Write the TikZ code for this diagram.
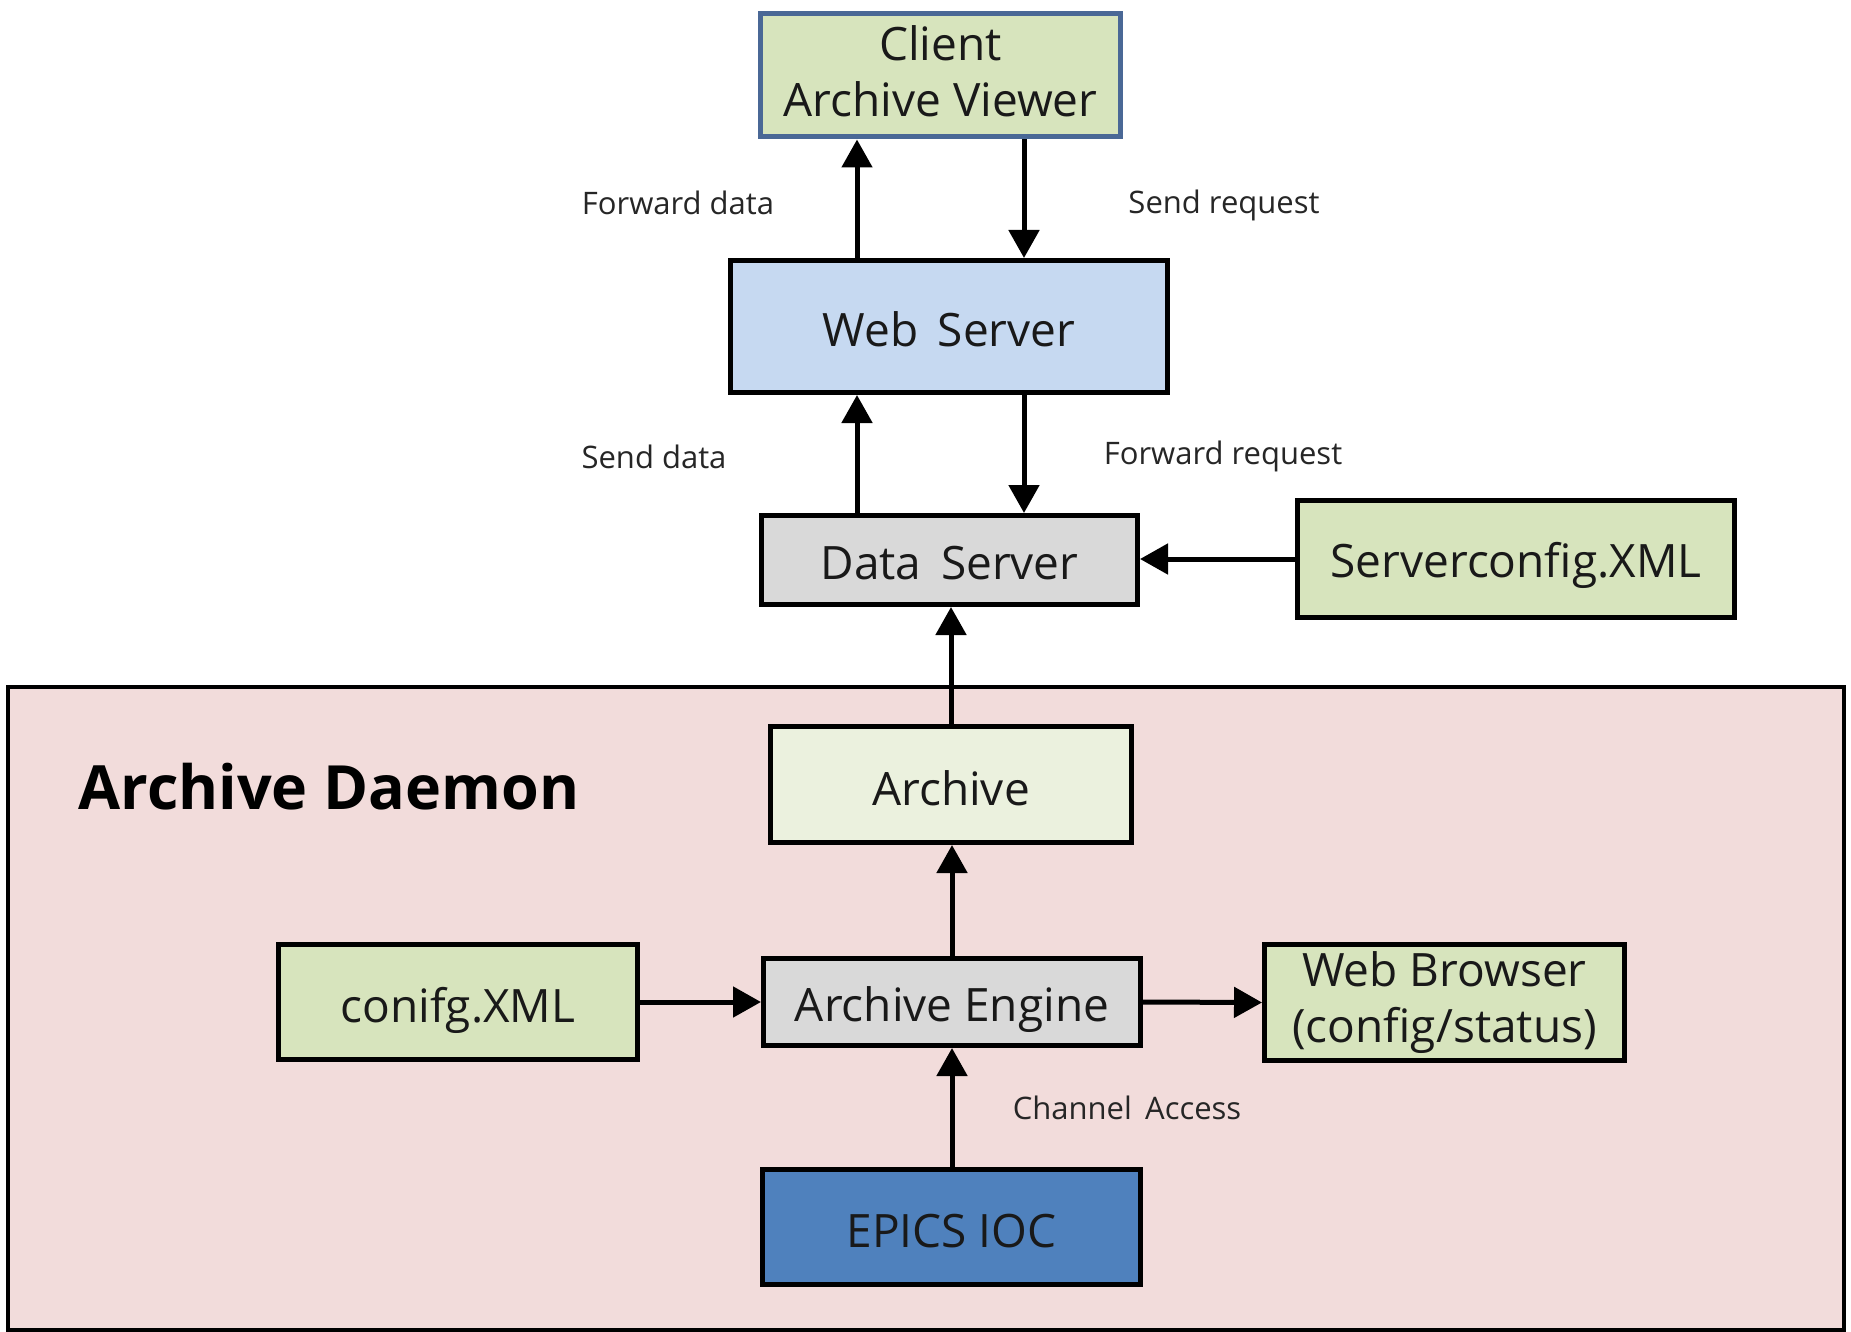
\documentclass[tikz,border=0pt]{standalone}
\usepackage{fontspec}
\setmainfont{Open Sans}
\usetikzlibrary{arrows.meta}
\definecolor{cgreen}{HTML}{D7E4BD}
\definecolor{clight}{HTML}{EBF1DE}
\definecolor{cweb}{HTML}{C6D9F1}
\definecolor{cgray}{HTML}{D9D9D9}
\definecolor{cpink}{HTML}{F2DCDB}
\definecolor{cepics}{HTML}{4F81BD}
\definecolor{cclient}{HTML}{4A6896}
\newcommand{\dn}[2]{\raisebox{0pt}[\dimexpr\height+#1pt+#1pt\relax][\depth]{#2}}
\tikzset{
  box/.style={draw=black, line width=5pt, rectangle, align=center, inner sep=0pt,
    font=\fontsize{46}{56}\selectfont, text=black!90},
  lbl/.style={font=\fontsize{31}{36}\selectfont, text=black!85, inner sep=0pt},
  arr/.style={line width=5pt, -{Triangle[width=30pt,length=28pt]}},
}
\begin{document}
\begin{tikzpicture}[x=1pt,y=-1pt]
\useasboundingbox (0,0) rectangle (1851,1332);
\fill[white] (0,0) rectangle (1851,1332);
% daemon region
\draw[fill=cpink, line width=4pt] (8,687) rectangle (1844,1330);
\node[font=\bfseries\fontsize{61}{70}\selectfont, inner sep=0pt] (daemon) at (329,787) {Archive Daemon};

\node[box, draw=cclient, fill=cgreen, minimum width=360pt, minimum height=123pt] (client) at (940.5,75.5) {\dn{2}{\begin{tabular}{@{}c@{}}Client\\Archive Viewer\end{tabular}}};
\node[box, fill=cweb, minimum width=437pt, minimum height=132pt] (ws) at (949,326.5) {\dn{3}{Web\,  Server}};
\node[box, fill=cgray, minimum width=376pt, minimum height=89pt] (ds) at (949.5,560) {\dn{3}{Data\,  Server}};
\node[box, fill=cgreen, minimum width=437pt, minimum height=117pt] (sc) at (1516,559) {\dn{6}{Serverconfig.XML}};
\node[box, fill=clight, minimum width=361pt, minimum height=116pt] (ar) at (951,784.5) {\dn{4}{Archive}};
\node[box, fill=cgray, minimum width=377pt, minimum height=87pt] (ae) at (952,1002) {\dn{8}{Archive Engine}};
\node[box, fill=cgreen, minimum width=359pt, minimum height=115pt] (cx) at (458,1002) {\dn{8}{conifg.XML}};
\node[box, fill=cgreen, minimum width=360pt, minimum height=116pt] (wb) at (1444.5,1002.5) {\dn{1}{\begin{tabular}{@{}c@{}}Web Browser\\(config/status)\end{tabular}}};
\node[box, fill=cepics, minimum width=378pt, minimum height=115pt] (ioc) at (951.5,1227) {\dn{4}{EPICS IOC}};

\coordinate (xl) at (857,0);
\coordinate (xr) at (1024,0);
\coordinate (xc) at (951,0);
\coordinate (xa) at (952,0);

\draw[arr] (ws.north -| xl) -- (client.south -| xl);
\draw[arr] (client.south -| xr) -- (ws.north -| xr);
\draw[arr] (ds.north -| xl) -- (ws.south -| xl);
\draw[arr] (ws.south -| xr) -- (ds.north -| xr);
\draw[arr] (sc.west) -- (sc.west -| ds.east);
\draw[arr] (ar.north -| xc) -- (ds.south -| xc);
\draw[arr] (ae.north -| xa) -- (ar.south -| xa);
\draw[arr] (cx.east) -- (ae.west);
\draw[arr] (ae.east) -- (wb.west);
\draw[arr] (ioc.north -| xa) -- (ae.south -| xa);

\node[lbl] (l1) at (678,203) {Forward data};
\node[lbl] (l2) at (1224,205) {Send request};
\node[lbl] (l3) at (654,457) {Send data};
\node[lbl] (l4) at (1223,456) {Forward request};
\node[lbl] (l5) at (1127,1108) {Channel\, Access};
\end{tikzpicture}
\end{document}
